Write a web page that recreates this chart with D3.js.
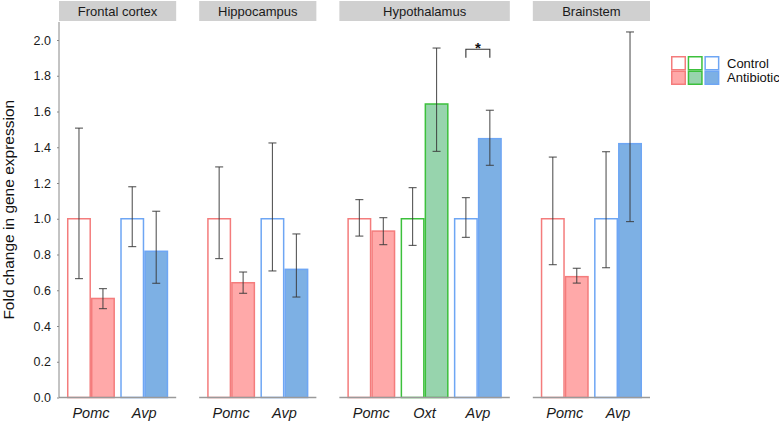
<!DOCTYPE html>
<html><head><meta charset="utf-8">
<script src="https://cdn.jsdelivr.net/npm/d3@7"></script>
<style>body{margin:0;background:#fff}svg{display:block}text{font-family:"Liberation Sans",Arial,sans-serif}</style>
</head><body><svg id="c" width="779" height="426"></svg>
<script>
const regions = ["Frontal cortex","Hippocampus","Hypothalamus","Brainstem"];
const regionGenes = [["Pomc","Avp"],["Pomc","Avp"],["Pomc","Oxt","Avp"],["Pomc","Avp"]];
const treatments = ["Control","Antibiotic"];
const yTicks = [0,0.2,0.4,0.6,0.8,1.0,1.2,1.4,1.6,1.8,2.0];

const rowRegion = ["Frontal cortex","Frontal cortex","Frontal cortex","Frontal cortex",
  "Hippocampus","Hippocampus","Hippocampus","Hippocampus",
  "Hypothalamus","Hypothalamus","Hypothalamus","Hypothalamus","Hypothalamus","Hypothalamus",
  "Brainstem","Brainstem","Brainstem","Brainstem"];
const rowGene = ["Pomc","Pomc","Avp","Avp","Pomc","Pomc","Avp","Avp",
  "Pomc","Pomc","Oxt","Oxt","Avp","Avp","Pomc","Pomc","Avp","Avp"];
const rowTreat = ["Control","Antibiotic","Control","Antibiotic","Control","Antibiotic","Control","Antibiotic",
  "Control","Antibiotic","Control","Antibiotic","Control","Antibiotic","Control","Antibiotic","Control","Antibiotic"];
const meanVal = [1.0,0.554,1.0,0.818, 1.0,0.642,1.0,0.717, 1.0,0.931,1.0,1.642,1.0,1.448, 1.0,0.676,1.0,1.420];
const lowerVal = [0.665,0.497,0.844,0.639, 0.777,0.583,0.708,0.562, 0.903,0.855,0.851,1.377,0.896,1.299, 0.743,0.640,0.726,0.984];
const upperVal = [1.507,0.609,1.179,1.042, 1.290,0.702,1.424,0.915, 1.107,1.006,1.174,1.955,1.118,1.607, 1.345,0.723,1.375,2.045];

const sigRegion = "Hypothalamus", sigGene = "Avp", sigY = 1.948, sigLeg = 1.901, sigLabel = "*";

const geneStroke = {Pomc:"#F47C7C", Oxt:"#3CC03C", Avp:"#6EA6F4"};
const geneFill = {Pomc:"#FFA9A9", Oxt:"#97D4AD", Avp:"#7DB0E4"};
const legendGenes = ["Pomc","Oxt","Avp"];

const svg = d3.select("#c");
const pLeft = 59, pGap = 23, pRight = 650, pTop = 22, pBottom = 397.5;
const units = regionGenes.map(g => g.length + 0.2);
const unit = (pRight - pLeft - pGap*(regions.length-1)) / d3.sum(units);
const y = d3.scaleLinear().domain([0, (pBottom-pTop)/ ((pBottom-40)/2)]).range([pBottom, pTop]);

const data = meanVal.map((m,i)=>({region:rowRegion[i], gene:rowGene[i], treat:rowTreat[i], mean:m, lo:lowerVal[i], hi:upperVal[i]}));

let x0 = pLeft;
regions.forEach((reg, ri) => {
  const genes = regionGenes[ri];
  const w = units[ri]*unit;
  const x = d3.scaleLinear().domain([0.4, genes.length+0.6]).range([x0, x0+w]);
  const g = svg.append("g");
  g.append("rect").attr("x", x0).attr("y", 1).attr("width", w).attr("height", 20).attr("fill", "#D0D0D0");
  g.append("text").attr("x", x0+w/2).attr("y", 15.5).attr("text-anchor","middle")
    .attr("font-size", 13).attr("fill","#1a1a1a").text(reg);
  const rows = data.filter(d => d.region === reg);
  const pos = d => genes.indexOf(d.gene) + 1 + (d.treat === "Control" ? -0.225 : 0.225);
  g.selectAll("rect.bar").data(rows).join("rect").attr("class","bar")
    .attr("x", d => x(pos(d) - 0.225) + 0.75)
    .attr("width", d => x(pos(d)+0.225) - x(pos(d)-0.225) - 1.5)
    .attr("y", d => y(d.mean))
    .attr("height", d => y(0) - y(d.mean))
    .attr("fill", d => d.treat === "Control" ? "#fff" : geneFill[d.gene])
    .attr("stroke", d => geneStroke[d.gene]).attr("stroke-width", 1.5);
  const eb = g.selectAll("g.eb").data(rows).join("g").attr("class","eb")
    .attr("stroke","#3a3a3a").attr("stroke-opacity",0.85).attr("stroke-width",1.1);
  eb.append("line").attr("x1", d=>x(pos(d))).attr("x2", d=>x(pos(d))).attr("y1", d=>y(d.lo)).attr("y2", d=>y(d.hi));
  eb.append("line").attr("x1", d=>x(pos(d))-4).attr("x2", d=>x(pos(d))+4).attr("y1", d=>y(d.lo)).attr("y2", d=>y(d.lo));
  eb.append("line").attr("x1", d=>x(pos(d))-4).attr("x2", d=>x(pos(d))+4).attr("y1", d=>y(d.hi)).attr("y2", d=>y(d.hi));
  g.append("line").attr("x1", x0).attr("x2", x0+w).attr("y1", pBottom).attr("y2", pBottom)
    .attr("stroke","#9a9a9a").attr("stroke-width",1.6);
  g.selectAll("text.xl").data(genes).join("text").attr("class","xl")
    .attr("x", (d,i)=>x(i+1)).attr("y", 418).attr("text-anchor","middle")
    .attr("font-size", 14.5).attr("font-style","italic").attr("fill","#1a1a1a").text(d=>d);
  if (reg === sigRegion) {
    const gi = genes.indexOf(sigGene) + 1;
    const xa = x(gi-0.225), xb = x(gi+0.225);
    g.append("path").attr("d", `M${xa},${y(sigLeg)}V${y(sigY)}H${xb}V${y(sigLeg)}`)
      .attr("fill","none").attr("stroke","#333").attr("stroke-width",1.1);
    g.append("text").attr("x", (xa+xb)/2).attr("y", y(sigY)+3.5).attr("text-anchor","middle")
      .attr("font-size", 15).attr("font-weight","bold").attr("fill","#111").text(sigLabel);
  }
  if (ri === 0) {
    const ax = g.append("g").attr("transform", `translate(${x0},0)`)
      .call(d3.axisLeft(y).tickValues(yTicks).tickFormat(d3.format(".1f")).tickSize(2).tickPadding(6));
    ax.select(".domain").remove();
    ax.selectAll(".tick line").attr("stroke","#888");
    ax.selectAll(".tick text").attr("font-size", 12.5).attr("fill","#1a1a1a").attr("font-family","Liberation Sans, Arial, sans-serif");
    g.append("line").attr("x1", x0).attr("x2", x0).attr("y1", pTop).attr("y2", pBottom)
      .attr("stroke","#888").attr("stroke-width",1);
  }
  x0 += w + pGap;
});

svg.append("text").attr("transform", `translate(14,${(pTop+pBottom)/2}) rotate(-90)`)
  .attr("text-anchor","middle").attr("font-size", 15.5).attr("fill","#111")
  .text("Fold change in gene expression");

const lg = svg.append("g");
const lx = 671, ly = 56, kw = 15, kh = 14.5, kgap = 1.7;
legendGenes.forEach((gname, i) => {
  const xx = lx + i*(kw+kgap);
  lg.append("rect").attr("x", xx+0.75).attr("y", ly+0.75).attr("width", kw-1.5).attr("height", kh-1.5)
    .attr("fill","#fff").attr("stroke", geneStroke[gname]).attr("stroke-width",1.5);
  lg.append("rect").attr("x", xx+0.75).attr("y", ly+kh+0.75).attr("width", kw-1.5).attr("height", kh-1.5)
    .attr("fill", geneFill[gname]).attr("stroke", geneStroke[gname]).attr("stroke-width",1.5);
});
treatments.forEach((t,i) => {
  lg.append("text").attr("x", 727).attr("y", ly + kh*i + kh/2 + 4.5)
    .attr("font-size", 13).attr("fill","#111").text(t);
});
</script></body></html>
